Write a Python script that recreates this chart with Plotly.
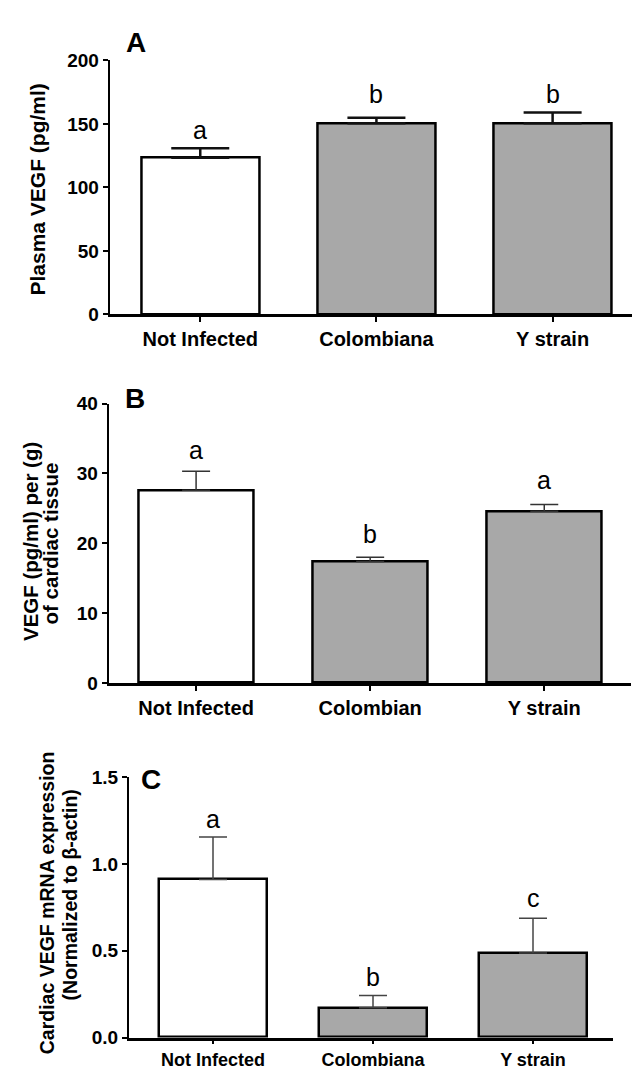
import plotly.graph_objects as go

# ---------------- data ----------------
cats_A = ["Not Infected", "Colombiana", "Y strain"]
mean_A = [123.4, 150.5, 150.5]
err_A = [7.4, 4.3, 8.5]
letters_A = ["a", "b", "b"]
letter_y_A = [144, 173.5, 173.5]

cats_B = ["Not Infected", "Colombian", "Y strain"]
mean_B = [27.6, 17.4, 24.6]
err_B = [2.7, 0.6, 0.95]
letters_B = ["a", "b", "a"]
letter_y_B = [33.0, 21.3, 28.8]

cats_C = ["Not Infected", "Colombiana", "Y strain"]
mean_C = [0.91, 0.172, 0.487]
err_C = [0.245, 0.07, 0.2]
letters_C = ["a", "b", "c"]
letter_y_C = [1.245, 0.35, 0.79]

ticks_A = [0, 50, 100, 150, 200]
ticks_B = [0, 10, 20, 30, 40]
ticks_C = [0.0, 0.5, 1.0, 1.5]
tick_text_C = ["0.0", "0.5", "1.0", "1.5"]

# ---------------- style ----------------
W, H = 640, 1069
FONT = "Liberation Sans, Arial, sans-serif"
bar_colors = ["white", "#a8a8a8", "#a8a8a8"]

def px_x(p):
    return p / W

def px_y(p):
    return 1 - p / H

fig = go.Figure()

panels = [
    dict(cats=cats_A, mean=mean_A, err=err_A, letters=letters_A, ly=letter_y_A,
         xd=(101.7, 632.7), yd=(43.3, 302.3), yr=(0, 200), ticks=ticks_A, ttext=[str(t) for t in ticks_A],
         xr=(-0.514, 2.5), bw=0.67, capw=29, ew=2.5, ec="#111", xa="x", ya="y",
         label="A", lab_pos=(128, 25), catfs=20, ticklen=5),
    dict(cats=cats_B, mean=mean_B, err=err_B, letters=letters_B, ly=letter_y_B,
         xd=(100.7, 623.3), yd=(393.3, 678.3), yr=(0, 40), ticks=ticks_B, ttext=[str(t) for t in ticks_B],
         xr=(-0.502, 2.5), bw=0.66, capw=14, ew=1.5, ec="#333", xa="x2", ya="y2",
         label="B", lab_pos=(127, 388), catfs=20, ticklen=5),
    dict(cats=cats_C, mean=mean_C, err=err_C, letters=letters_C, ly=letter_y_C,
         xd=(121, 605), yd=(774.3, 1040.0), yr=(0, 1.5), ticks=ticks_C, ttext=tick_text_C,
         xr=(-0.525, 2.5), bw=0.67, capw=14, ew=1.5, ec="#444", xa="x3", ya="y3",
         label="C", lab_pos=(143, 777), catfs=18, ticklen=4),
]

annotations = []
layout_axes = {}
for i, p in enumerate(panels):
    suffix = "" if i == 0 else str(i + 1)
    fig.add_trace(go.Bar(
        x=list(range(len(p["cats"]))), y=p["mean"],
        width=p["bw"],
        marker=dict(color=bar_colors, line=dict(color="black", width=2.5)),
        error_y=dict(type="data", symmetric=False, array=p["err"], arrayminus=[0] * len(p["err"]),
                     color=p["ec"], thickness=p["ew"], width=p["capw"]),
        xaxis=p["xa"], yaxis=p["ya"], showlegend=False, hoverinfo="skip",
    ))
    layout_axes["xaxis" + suffix] = dict(
        domain=[px_x(p["xd"][0]), px_x(p["xd"][1])],
        anchor=p["ya"], range=list(p["xr"]),
        tickmode="array", tickvals=list(range(len(p["cats"]))), ticktext=p["cats"],
        ticks="outside", ticklen=p["ticklen"], tickwidth=2, tickcolor="black",
        showline=True, linecolor="black", linewidth=2.5,
        showgrid=False, zeroline=False, fixedrange=True,
        tickfont=dict(family=FONT, size=p["catfs"], color="black", weight="bold"),
    )
    layout_axes["yaxis" + suffix] = dict(
        domain=[px_y(p["yd"][1]), px_y(p["yd"][0])],
        anchor=p["xa"], range=list(p["yr"]),
        tickmode="array", tickvals=p["ticks"], ticktext=p["ttext"],
        ticks="outside", ticklen=5, tickwidth=2, tickcolor="black",
        showline=True, linecolor="black", linewidth=2,
        showgrid=False, zeroline=False, fixedrange=True,
        tickfont=dict(family=FONT, size=19, color="black", weight="bold"),
    )
    for j, (lt, ly) in enumerate(zip(p["letters"], p["ly"])):
        annotations.append(dict(
            x=j, y=ly, xref=p["xa"], yref=p["ya"], text=lt, showarrow=False,
            font=dict(family=FONT, size=25, color="black"), yanchor="middle",
            yshift=0 if lt == "b" else 2,
        ))
    annotations.append(dict(
        x=px_x(p["lab_pos"][0]), y=px_y(p["lab_pos"][1]), xref="paper", yref="paper",
        text=p["label"], showarrow=False, xanchor="center", yanchor="middle",
        font=dict(family=FONT, size=28, color="black", weight="bold"),
    ))

# y-axis titles
ytitles = [
    ("Plasma VEGF (pg/ml)", 30, 175, 21),
    ("VEGF (pg/ml) per (g)", 22.5, 534, 20.5),
    ("of cardiac tissue", 42, 536, 20.5),
    ("Cardiac VEGF mRNA expression", 39, 903, 19.5),
    ("(Normalized to β-actin)", 62, 895, 19.5),
]
for txt, xp, yp, fs in ytitles:
    annotations.append(dict(
        x=px_x(xp), y=px_y(yp), xref="paper", yref="paper", text=txt, textangle=-90,
        showarrow=False, xanchor="center", yanchor="middle",
        font=dict(family=FONT, size=fs, color="black", weight="bold"),
    ))

fig.update_layout(
    width=W, height=H,
    margin=dict(l=0, r=0, t=0, b=0),
    paper_bgcolor="white", plot_bgcolor="white",
    annotations=annotations,
    bargap=0,
    **layout_axes,
)

fig.write_html("out.html")
